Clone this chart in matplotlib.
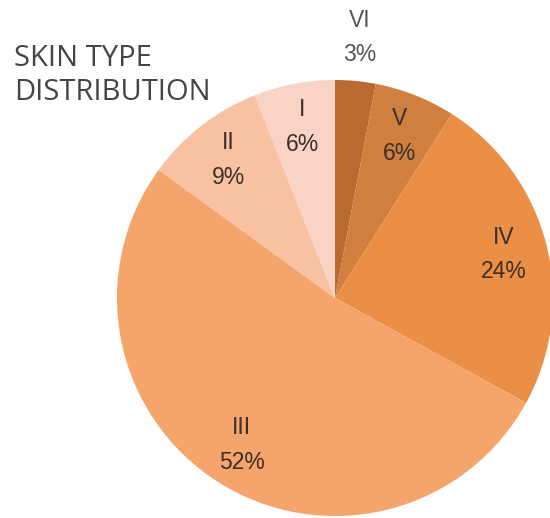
import matplotlib.pyplot as plt
from matplotlib import font_manager
import numpy as np

# skin type shares, clockwise from 12 o'clock
types = ['VI', 'V', 'IV', 'III', 'II', 'I']
shares = [3, 6, 24, 52, 9, 6]
colors = ['#b96a31', '#d07f3f', '#ea8f45', '#f5a46c', '#f7c1a2', '#f9d3c3']
title = 'SKIN TYPE\nDISTRIBUTION'

labels = [f'{t}\n{s}%' for t, s in zip(types, shares)]

# narrow font for the slice labels if there is one
try:
    font_manager.findfont('Liberation Sans Narrow', fallback_to_default=False)
    lab_font, lab_size, lab_ls = 'Liberation Sans Narrow', 20, 1.35
except ValueError:
    lab_font, lab_size, lab_ls = 'Liberation Sans', 16.5, 1.65

fig = plt.figure(figsize=(5.5, 5.18), dpi=100)
ax = fig.add_axes([0, 0, 1, 1])

wedges, texts = ax.pie(shares, labels=labels, colors=colors, startangle=90,
                       counterclock=False, radius=218, labeldistance=0.8,
                       wedgeprops=dict(linewidth=0),
                       textprops=dict(fontsize=lab_size, color='#3b2f28',
                                      family=[lab_font, 'DejaVu Sans'],
                                      ha='center', va='center', linespacing=lab_ls))

# smallest slice gets its label outside the pie
w = wedges[0]
ang = np.deg2rad((w.theta1 + w.theta2) / 2)
texts[0].set_position((1.2 * 218 * np.cos(ang), 1.2 * 218 * np.sin(ang)))
texts[0].set_color('#555555')

ax.set_xlim(-335, 215)
ax.set_ylim(-220, 298)
ax.set_aspect('equal')
ax.axis('off')

fig.text(14 / 550, 1 - 100 / 518, title, fontsize=21, color='#454545',
         family=['Open Sans', 'DejaVu Sans'], ha='left', va='baseline',
         linespacing=1.25)

fig.savefig('out.png', dpi=100)
